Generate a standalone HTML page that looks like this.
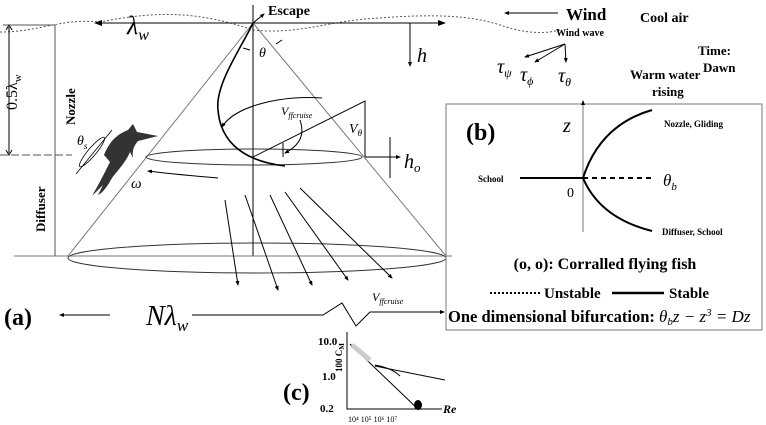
<!DOCTYPE html>
<html><head><meta charset="utf-8"><style>
html,body{margin:0;padding:0;background:#fff;}
svg{display:block;}
.s{font-family:"Liberation Serif",serif;}
.b{font-family:"Liberation Serif",serif;font-weight:bold;}
.i{font-family:"Liberation Serif",serif;font-style:italic;}
</style></head><body>
<svg width="766" height="425" viewBox="0 0 766 425" xmlns="http://www.w3.org/2000/svg">
<defs>
<marker id="a" markerWidth="8" markerHeight="6" refX="7" refY="3" orient="auto"><path d="M0,0 L8,3 L0,6 z" fill="#000"/></marker>
<marker id="sa" markerWidth="5" markerHeight="4" refX="4" refY="2" orient="auto"><path d="M0,0 L5,2 L0,4 z" fill="#000"/></marker>
</defs>
<path d="M0,32 C40,32 60,18 100,22 C160,10 200,12 253,30 C300,35 330,20 380,18 C430,14 470,15 500,25 C520,32 540,35 560,30" fill="none" stroke="#555" stroke-width="1" stroke-dasharray="2,2"/>
<line x1="160" y1="23" x2="95" y2="23" stroke="#000" marker-end="url(#a)"/>
<line x1="155" y1="23" x2="445" y2="23" stroke="#000" marker-end="url(#a)"/>
<text x="127" y="34" class="i" font-size="26">λ<tspan font-size="16" dy="6">w</tspan></text>
<line x1="253" y1="5" x2="253" y2="256" stroke="#000"/>
<line x1="253" y1="23" x2="264" y2="14" stroke="#000" marker-end="url(#sa)"/>
<text x="268" y="15" class="b" font-size="14">Escape</text>
<line x1="253" y1="23" x2="68" y2="256" stroke="#777"/>
<line x1="253" y1="23" x2="446" y2="256" stroke="#777"/>
<line x1="14" y1="256" x2="452" y2="256" stroke="#777"/>
<ellipse cx="257" cy="258" rx="189" ry="15" fill="none" stroke="#333"/>
<ellipse cx="254" cy="157" rx="108" ry="8" fill="none" stroke="#333"/>
<line x1="410" y1="23" x2="410" y2="66" stroke="#000" marker-end="url(#sa)"/>
<text x="417" y="62" class="i" font-size="20">h</text>
<text x="259" y="57" class="i" font-size="14">θ</text>
<path d="M243,48 L250,50 M276,44 L282,40" stroke="#000"/>
<line x1="9" y1="27" x2="9" y2="153" stroke="#000"/>
<path d="M6,30 L9,25 L12,30 M6,150 L9,155 L12,150" fill="none" stroke="#000"/>
<line x1="0" y1="155" x2="72" y2="155" stroke="#555" stroke-dasharray="8,3"/>
<line x1="55" y1="25" x2="55" y2="256" stroke="#555"/>
<line x1="3" y1="25" x2="55" y2="25" stroke="#555"/>
<text transform="translate(17,110) rotate(-90)" class="s" font-size="16">0.5λ<tspan font-size="11" dy="4">w</tspan></text>
<text transform="translate(75,125) rotate(-90)" class="b" font-size="13">Nozzle</text>
<text transform="translate(45,232) rotate(-90)" class="b" font-size="13">Diffuser</text>
<path d="M104,155 C110,140 118,134 128,130 L133,124 L137,132 L158,136 L138,141 C134,146 132,150 133,158 L130,152 C126,162 118,170 112,178 C108,185 104,192 98,195 L103,185 L92,196 C100,182 105,172 110,162 Z" fill="#333"/>
<ellipse cx="92" cy="152" rx="4" ry="19" transform="rotate(40 92 152)" fill="none" stroke="#000" stroke-width="0.8"/>
<line x1="76" y1="174" x2="112" y2="130" stroke="#000" stroke-width="0.8"/>
<text x="77" y="145" class="i" font-size="14">θ<tspan font-size="9" dy="4">s</tspan></text>
<text x="131" y="188" class="i" font-size="15">ω</text>
<path d="M218,178 C195,176 170,174 148,171" fill="none" stroke="#000" marker-end="url(#sa)"/>
<path d="M253,23 C240,50 215,85 218,110 C220,135 235,160 285,166" fill="none" stroke="#000" stroke-width="1.6"/>
<path d="M322,98 C285,95 235,105 222,127" fill="none" stroke="#000" marker-end="url(#sa)"/>
<text x="281" y="115" class="i" font-size="12">V<tspan font-size="8" dy="3">ffcruise</tspan></text>
<path d="M300,120 C305,135 300,145 285,153" fill="none" stroke="#000" marker-end="url(#sa)"/>
<path d="M253,157 L365,101 L365,157" fill="none" stroke="#000"/>
<line x1="283" y1="143" x2="283" y2="157" stroke="#000"/>
<text x="349" y="133" class="i" font-size="14">V<tspan font-size="9" dy="3">θ</tspan></text>
<line x1="365" y1="157" x2="400" y2="157" stroke="#000" marker-end="url(#sa)"/>
<line x1="390" y1="137" x2="390" y2="178" stroke="#000"/>
<text x="404" y="168" class="i" font-size="20">h<tspan font-size="13" dy="4">o</tspan></text>
<g stroke="#000" marker-end="url(#sa)">
<line x1="225" y1="200" x2="238" y2="285"/>
<line x1="245" y1="195" x2="278" y2="290"/>
<line x1="270" y1="195" x2="312" y2="285"/>
<line x1="285" y1="192" x2="348" y2="280"/>
<line x1="300" y1="188" x2="392" y2="278"/>
</g>
<text x="372" y="301" class="i" font-size="12">V<tspan font-size="8" dy="3">ffcruise</tspan></text>
<line x1="558" y1="13" x2="505" y2="13" stroke="#000" marker-end="url(#sa)"/>
<text x="566" y="20" class="b" font-size="17">Wind</text>
<text x="640" y="22" class="b" font-size="14">Cool air</text>
<text x="556" y="36" class="b" font-size="10">Wind wave</text>
<text x="698" y="55" class="b" font-size="13">Time:</text>
<text x="703" y="72" class="b" font-size="13">Dawn</text>
<text x="630" y="79" class="b" font-size="13">Warm water</text>
<text x="652" y="96" class="b" font-size="13">rising</text>
<g stroke="#000" marker-end="url(#sa)">
<line x1="565" y1="44" x2="525" y2="57"/>
<line x1="565" y1="44" x2="535" y2="62"/>
<line x1="565" y1="44" x2="566" y2="62"/>
</g>
<text x="497" y="73" class="i" font-size="20">τ<tspan font-size="12" dy="4">ψ</tspan></text>
<text x="520" y="81" class="i" font-size="20">τ<tspan font-size="12" dy="4">ϕ</tspan></text>
<text x="558" y="82" class="i" font-size="20">τ<tspan font-size="12" dy="4">θ</tspan></text>
<rect x="446" y="104" width="316" height="226" fill="none" stroke="#777"/>
<text x="466" y="140" class="b" font-size="24">(b)</text>
<line x1="583" y1="232" x2="583" y2="101" stroke="#777" marker-end="url(#sa)"/>
<text x="563" y="132" class="i" font-size="20">z</text>
<line x1="520" y1="178" x2="583" y2="178" stroke="#000" stroke-width="2"/>
<line x1="583" y1="178" x2="655" y2="178" stroke="#000" stroke-width="2" stroke-dasharray="5,4"/>
<path d="M652,110 Q600,125 583,178 Q600,218 652,231" fill="none" stroke="#000" stroke-width="2"/>
<text x="478" y="182" class="b" font-size="9">School</text>
<text x="663" y="186" class="i" font-size="17">θ<tspan font-size="11" dy="4">b</tspan></text>
<text x="567" y="197" class="s" font-size="14">0</text>
<text x="664" y="127" class="b" font-size="9">Nozzle, Gliding</text>
<text x="662" y="235" class="b" font-size="9">Diffuser, School</text>
<text x="605" y="269" class="b" font-size="16" text-anchor="middle">(o, o): Corralled flying fish</text>
<line x1="490" y1="293" x2="540" y2="293" stroke="#000" stroke-width="2" stroke-dasharray="2,2"/>
<text x="544" y="298" class="b" font-size="15">Unstable</text>
<line x1="612" y1="293" x2="664" y2="293" stroke="#000" stroke-width="2.5"/>
<text x="669" y="298" class="b" font-size="15">Stable</text>
<text x="448" y="322" class="b" font-size="16.5">One dimensional bifurcation: <tspan class="i" font-weight="normal" font-size="17">θ<tspan font-size="11" dy="3">b</tspan><tspan dy="-3">z − z</tspan><tspan font-size="11" dy="-6">3</tspan><tspan dy="6"> = Dz</tspan></tspan></text>
<text x="4" y="325" class="b" font-size="24">(a)</text>
<line x1="110" y1="315" x2="60" y2="315" stroke="#000" marker-end="url(#sa)"/>
<text x="146" y="325" class="i" font-size="28">Nλ<tspan font-size="17" dy="6">w</tspan></text>
<path d="M192,315 L323,315 L342,303 L356,326 L370,312 L440,312" fill="none" stroke="#000"/>
<line x1="430" y1="312" x2="444" y2="312" stroke="#000" marker-end="url(#sa)"/>
<path d="M347,332 L347,409 L442,409" fill="none" stroke="#000"/>
<text x="318" y="345" class="b" font-size="11">10.0</text>
<text x="322" y="380" class="b" font-size="11">1.0</text>
<text x="320" y="412" class="b" font-size="11">0.2</text>
<text transform="translate(342,372) rotate(-90)" class="b" font-size="9">100 C<tspan font-size="7" dy="2">M</tspan></text>
<line x1="350" y1="344" x2="419" y2="410" stroke="#000"/>
<path d="M352,345 L370,360" stroke="#ccc" stroke-width="5"/>
<path d="M375,365 Q392,368 400,376" fill="none" stroke="#000"/>
<path d="M375,366 L445,380" stroke="#000"/>
<ellipse cx="418" cy="405" rx="4" ry="5" fill="#000"/>
<text x="443" y="413" class="b i" font-size="12" font-weight="bold">Re</text>
<text x="348" y="422" class="s" font-size="8">10⁴ 10⁵ 10⁶ 10⁷</text>
<text x="283" y="400" class="b" font-size="24">(c)</text>
</svg>
</body></html>
